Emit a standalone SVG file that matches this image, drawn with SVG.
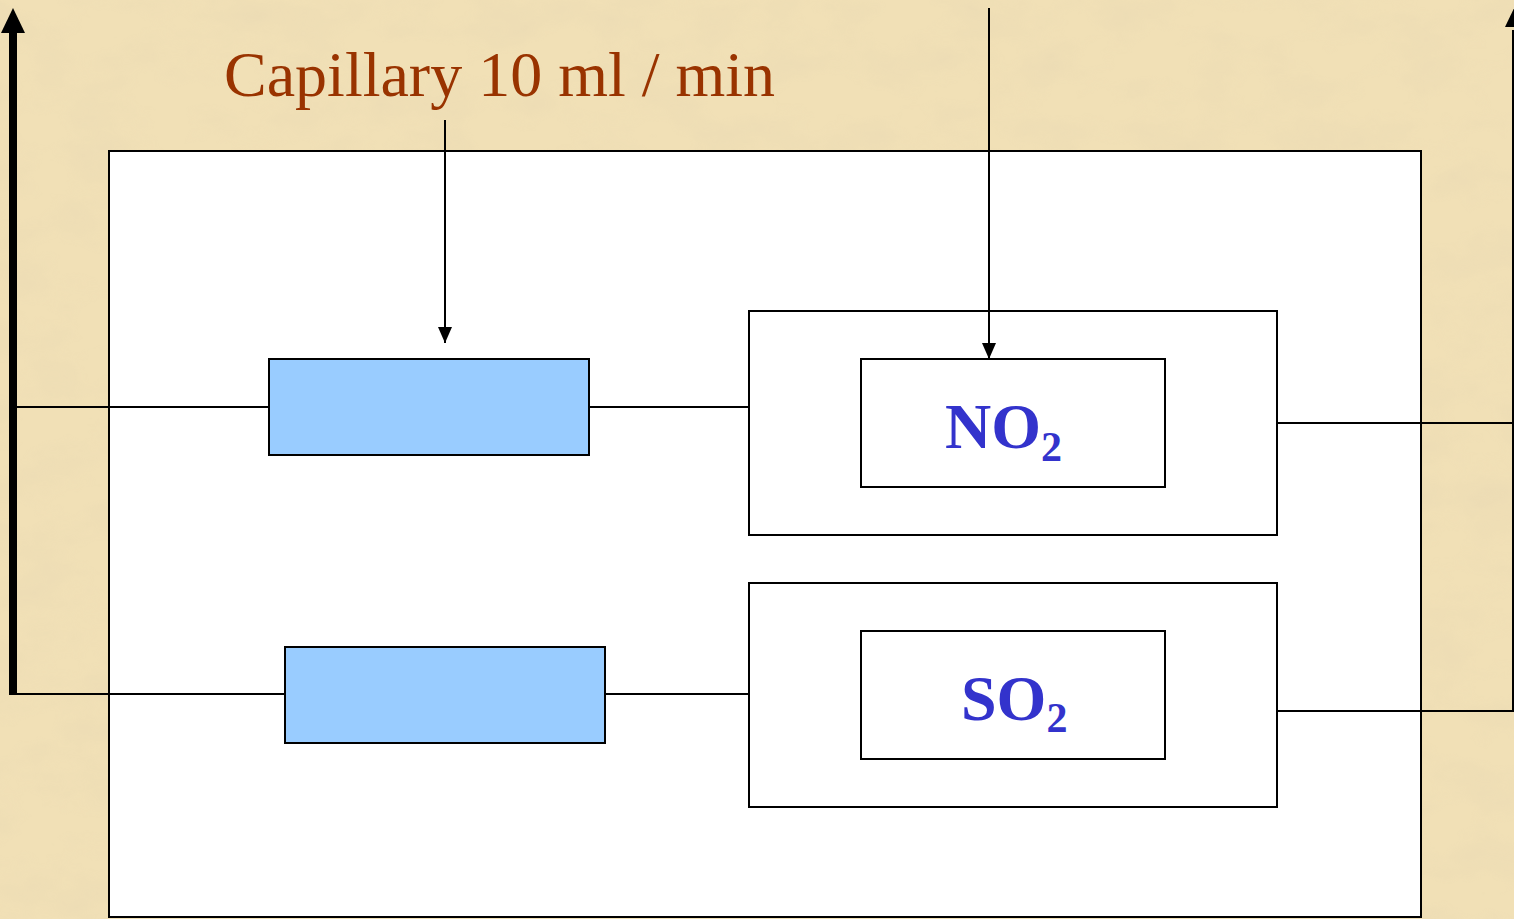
<svg xmlns="http://www.w3.org/2000/svg" width="1514" height="919" viewBox="0 0 1514 919">
<defs>
<filter id="paper" x="0" y="0" width="100%" height="100%">
<feTurbulence type="fractalNoise" baseFrequency="0.015 0.025" numOctaves="4" seed="7" result="n"/>
<feColorMatrix in="n" type="matrix" values="0 0 0 0 0.80  0 0 0 0 0.68  0 0 0 0 0.45  0 0 0 -1.8 1.1"/>
</filter>
<marker id="ah" viewBox="0 0 16 14" refX="16" refY="7" markerWidth="16" markerHeight="14" markerUnits="userSpaceOnUse" orient="auto">
<path d="M0,0 L16,7 L0,14 Z" fill="#000"/>
</marker>
<style>
.ln{stroke:#000;stroke-width:2;fill:none}
.box{fill:#fff;stroke:#000;stroke-width:2}
.blue{fill:#99CCFF;stroke:#000;stroke-width:2}
.chem{font-family:"Liberation Serif","Times New Roman",serif;font-weight:bold;fill:#3333CC}
.cap{font-family:"Liberation Serif","Times New Roman",serif;fill:#993300}
.thick{fill:#000}
</style>
</defs>
<g id="background">
<rect x="0" y="0" width="1514" height="919" fill="#F1E0B6"/>
<rect x="0" y="0" width="1514" height="919" filter="url(#paper)" opacity="0.45"/>
</g>
<g id="enclosure">
<rect class="box" x="109" y="151" width="1312" height="766"/>
</g>
<g id="capillary1">
<rect class="blue" x="269" y="359" width="320" height="96"/>
</g>
<g id="capillary2">
<rect class="blue" x="285" y="647" width="320" height="96"/>
</g>
<g id="no2-cell">
<rect class="box" x="749" y="311" width="528" height="224"/>
<rect class="box" x="861" y="359" width="304" height="128"/>
<text class="chem" x="945" y="448" font-size="64">NO<tspan font-size="42" dy="13">2</tspan></text>
</g>
<g id="so2-cell">
<rect class="box" x="749" y="583" width="528" height="224"/>
<rect class="box" x="861" y="631" width="304" height="128"/>
<text class="chem" x="961" y="720" font-size="64">SO<tspan font-size="42" dy="12">2</tspan></text>
</g>
<g id="label">
<text class="cap" x="224" y="96" font-size="64">Capillary 10 ml / min</text>
</g>
<g id="connectors">
<polyline class="ln" points="13,407 269,407"/>
<polyline class="ln" points="13,694 285,694"/>
<polyline class="ln" points="589,407 749,407"/>
<polyline class="ln" points="605,694 749,694"/>
<polyline class="ln" points="1277,423 1514,423"/>
<polyline class="ln" points="1277,711 1514,711"/>
<line class="ln" x1="445" y1="120" x2="445" y2="343" marker-end="url(#ah)"/>
<line class="ln" x1="989" y1="8" x2="989" y2="359" marker-end="url(#ah)"/>
<rect class="thick" x="9" y="30" width="8" height="665"/>
<path class="thick" d="M13,8 L25,33 L1,33 Z"/>
<rect class="thick" x="1512" y="30" width="8" height="682"/>
<path class="thick" d="M1517,2 L1529,27 L1505,27 Z"/>
</g>
</svg>
